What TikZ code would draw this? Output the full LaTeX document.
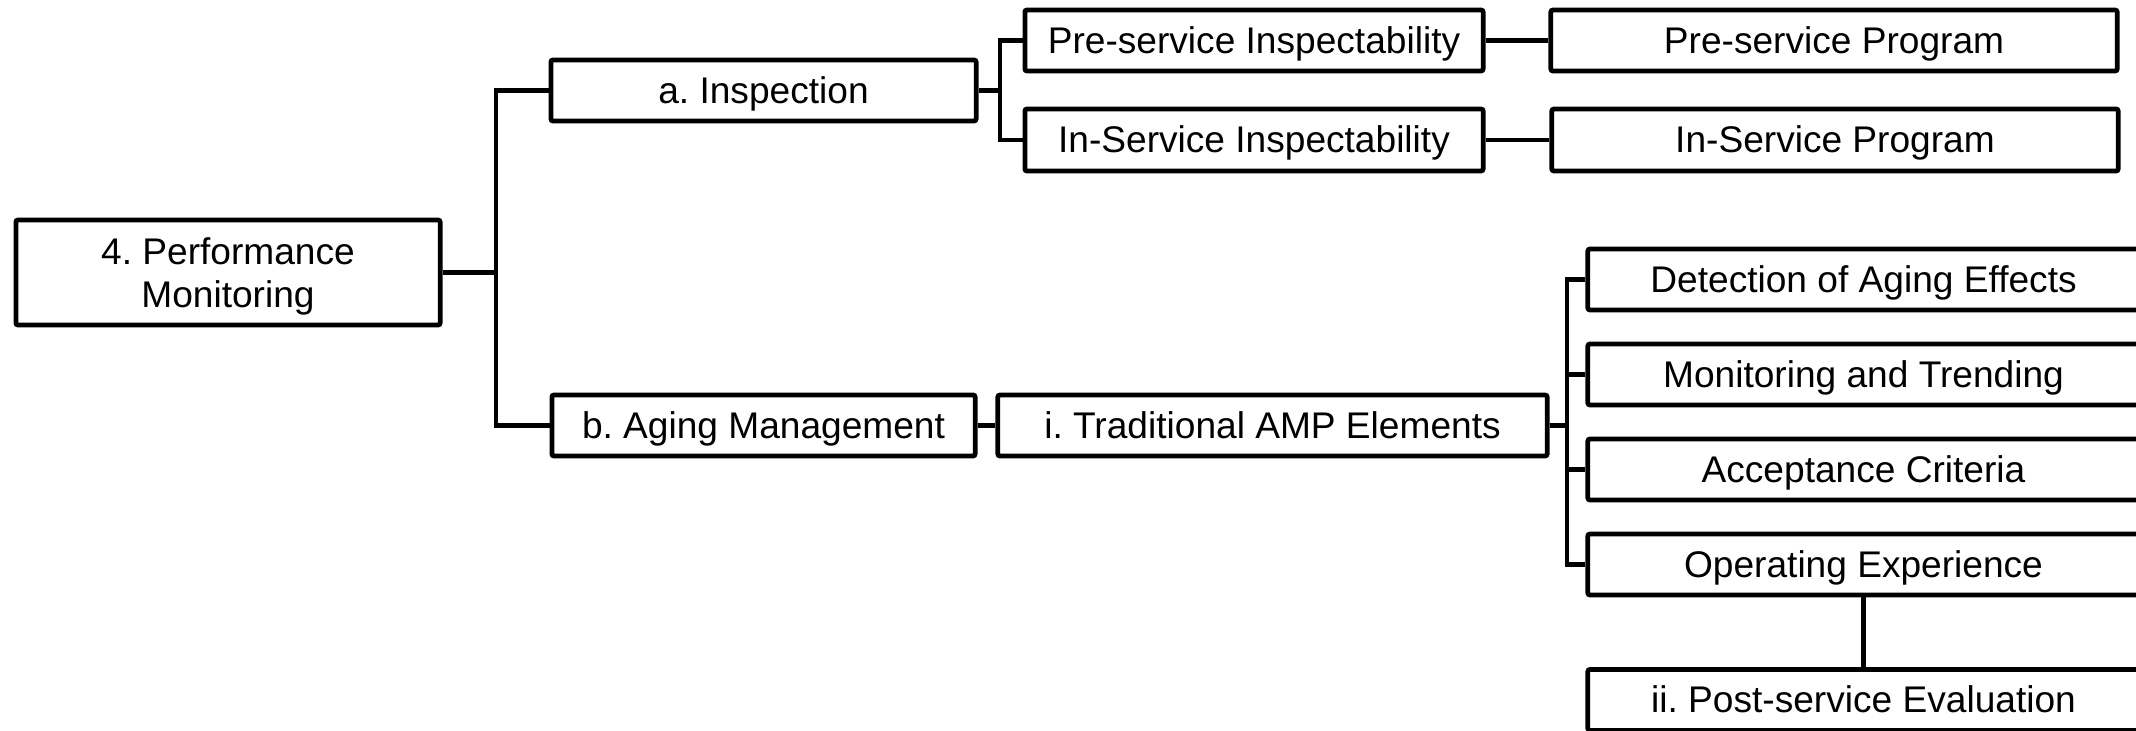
\documentclass[tikz,border=0pt]{standalone}
\usepackage{fontspec}
\setmainfont{Liberation Sans}
\frenchspacing
\begin{document}
\begin{tikzpicture}[x=0.01cm,y=-0.01cm,
  boxbase/.style={draw, line width=1.35pt, fill=white, inner sep=0pt,
    rounded corners=0.6pt, align=center, text depth=0pt,
    font=\fontsize{10.55pt}{12.1pt}\selectfont},
  box/.style={boxbase, text height=0.72em},
  link/.style={line width=1.3pt}]
  % page frame
  \useasboundingbox (0,0) rectangle (2136,731);
  \fill[white] (0,0) rectangle (2136,731);
  \clip (0,0) rectangle (2136,731);

  % root
  \node[boxbase, minimum width=4.24cm, minimum height=1.05cm] (pm) at (228,272.5) {4. Performance\\Monitoring};

  % first level
  \node[box, minimum width=4.25cm, minimum height=0.61cm] (insp) at (763.5,90.5) {a. Inspection};
  \node[box, minimum width=4.23cm, minimum height=0.61cm] (aging) at (763.5,425.5) {b. Aging Management};

  % inspection branch
  \node[box, minimum width=4.58cm, minimum height=0.61cm] (preI) at (1254,40.5) {Pre-service Inspectability};
  \node[box, minimum width=4.58cm, minimum height=0.62cm] (inI) at (1254,140) {In-Service Inspectability};
  \node[box, minimum width=5.66cm, minimum height=0.61cm] (preP) at (1834,40.5) {Pre-service Program};
  \node[box, minimum width=5.66cm, minimum height=0.62cm] (inP) at (1835,140) {In-Service Program};

  % aging management branch
  \node[box, minimum width=5.49cm, minimum height=0.61cm] (trad) at (1272.5,425.5) {i. Traditional AMP Elements};
  \node[box, minimum width=5.51cm, minimum height=0.61cm] (det) at (1863.5,279.5) {Detection of Aging Effects};
  \node[box, minimum width=5.51cm, minimum height=0.61cm] (mon) at (1863.5,374.5) {Monitoring and Trending};
  \node[box, minimum width=5.51cm, minimum height=0.61cm] (acc) at (1863.5,469.5) {Acceptance Criteria};
  \node[box, minimum width=5.51cm, minimum height=0.61cm] (opx) at (1863.5,564.5) {Operating Experience};
  \node[box, minimum width=5.51cm, minimum height=0.61cm] (post) at (1863.5,700) {ii. Post-service Evaluation};

  % junction points of the brackets
  \coordinate (jPM) at (496,272.5);
  \coordinate (jA) at (1000,90.5);
  \coordinate (jT) at (1567,425.5);

  % connectors
  \draw[link] (pm.east) -- (jPM);
  \draw[link] (insp.west) -| (jPM) |- (aging.west);
  \draw[link] (insp.east) -- (jA);
  \draw[link] (preI.west) -| (jA) |- (inI.west);
  \draw[link] (preI.east) -- (preP.west);
  \draw[link] (inI.east) -- (inP.west);
  \draw[link] (aging.east) -- (trad.west);
  \draw[link] (trad.east) -- (jT);
  \draw[link] (det.west) -| (jT) |- (opx.west);
  \draw[link] (mon.west) -- (mon.west -| jT);
  \draw[link] (acc.west) -- (acc.west -| jT);
  \draw[link] (opx.south) -- (post.north);
\end{tikzpicture}
\end{document}
